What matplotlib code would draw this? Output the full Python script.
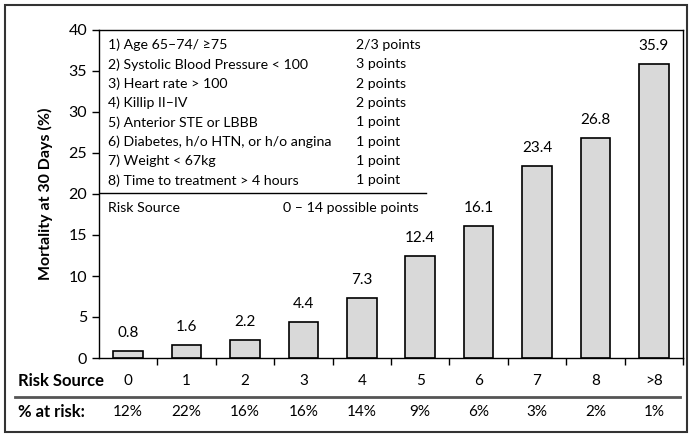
import matplotlib.pyplot as plt
from matplotlib.patches import Rectangle
from matplotlib.lines import Line2D
from matplotlib.transforms import blended_transform_factory

# ── data ──────────────────────────────────────────────────────────────────────
risk_scores = ["0", "1", "2", "3", "4", "5", "6", "7", "8", ">8"]
mortality = [0.8, 1.6, 2.2, 4.4, 7.3, 12.4, 16.1, 23.4, 26.8, 35.9]
pct_at_risk = ["12%", "22%", "16%", "16%", "14%", "9%", "6%", "3%", "2%", "1%"]

factors = [
    "1) Age 65\u201374/ \u226575",
    "2) Systolic Blood Pressure < 100",
    "3) Heart rate > 100",
    "4) Killip II\u2013IV",
    "5) Anterior STE or LBBB",
    "6) Diabetes, h/o HTN, or h/o angina",
    "7) Weight < 67kg",
    "8) Time to treatment > 4 hours",
]
factor_points = ["2/3 points", "3 points", "2 points", "2 points",
                 "1 point", "1 point", "1 point", "1 point"]

plt.rcParams['font.family'] = ['Lato', 'DejaVu Sans']

fig = plt.figure(figsize=(6.92, 4.34), dpi=100)
ax = fig.add_axes([99 / 692, 1 - 358 / 434, 584 / 692, 328 / 434])

x = list(range(len(risk_scores)))
ax.bar(x, mortality, width=0.51, color="#d9d9d9", edgecolor="black", linewidth=1.2)

for xi, v in zip(x, mortality):
    ax.annotate(f"{v:.1f}", (xi, v), xytext=(0, 8), textcoords="offset points",
                ha="center", va="bottom", fontsize=11)

ax.set_xlim(-0.5, len(risk_scores) - 0.5)
ax.set_ylim(0, 40)
ax.set_yticks(range(0, 41, 5))
ax.tick_params(axis="y", labelsize=11.5, length=5, width=1, direction="out")

# ticks at category boundaries, no labels
ax.set_xticks([i + 0.5 for i in x])
ax.set_xticklabels([])
ax.tick_params(axis="x", length=5, width=1, direction="out")

for s in ax.spines.values():
    s.set_linewidth(1)

ax.set_ylabel("Mortality at 30 Days (%)", fontsize=11.5, fontweight="bold", labelpad=11)

# legend box inside the axes
y0, dy = 0.954, 0.0589
for i, (f, p) in enumerate(zip(factors, factor_points)):
    ax.text(0.0154, y0 - i * dy, f, transform=ax.transAxes, fontsize=10.2, va="center")
    ax.text(0.44, y0 - i * dy, p, transform=ax.transAxes, fontsize=10.2, va="center")
ax.plot([0, 0.56], [0.503, 0.503], transform=ax.transAxes, color="black", lw=1)
ax.text(0.0154, 0.457, "Risk Source", transform=ax.transAxes, fontsize=10.2, va="center")
ax.text(0.315, 0.457, "0 \u2013 14 possible points", transform=ax.transAxes,
        fontsize=10.2, va="center")

# table rows below the axis
trans = blended_transform_factory(ax.transData, fig.transFigure)
row1_y = 1 - 381 / 434
row2_y = 1 - 412 / 434
fig.text(18 / 692, row1_y, "Risk Source", fontsize=12, fontweight="bold", va="center")
fig.text(18 / 692, row2_y, "% at risk:", fontsize=12, fontweight="bold", va="center")
for xi, lab, pct in zip(x, risk_scores, pct_at_risk):
    ax.text(xi, row1_y, lab, transform=trans, ha="center", va="center", fontsize=11)
    ax.text(xi, row2_y, pct, transform=trans, ha="center", va="center", fontsize=11)

fig.add_artist(Line2D([15 / 692, 680 / 692], [1 - 397 / 434, 1 - 397 / 434],
                      transform=fig.transFigure, color="#555555", lw=2))

# outer frame
fig.add_artist(Rectangle((5 / 692, 1 - 432 / 434), 682 / 692, 427 / 434,
                         transform=fig.transFigure, fill=False,
                         edgecolor="#333333", lw=1.5))

fig.savefig("out.png", dpi=100)
